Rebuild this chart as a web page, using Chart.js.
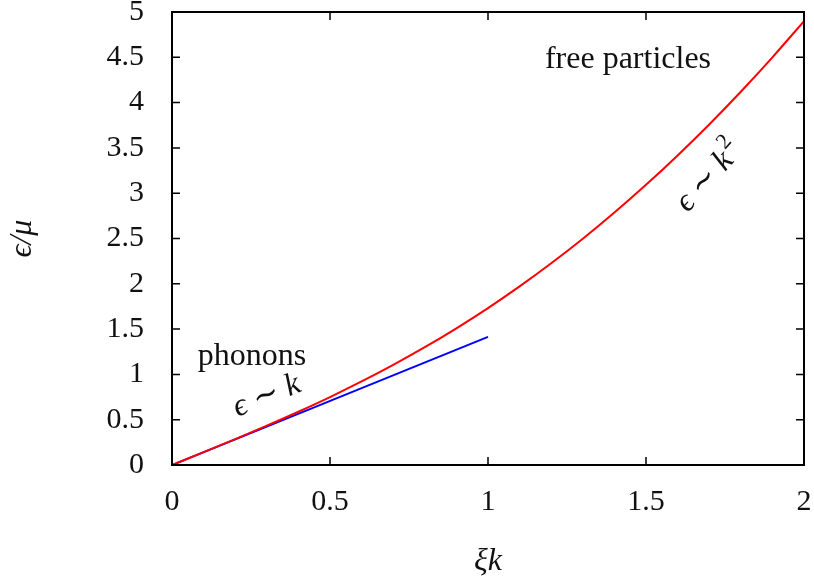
<!DOCTYPE html>
<html>
<head>
<meta charset="utf-8">
<script src="https://cdn.jsdelivr.net/npm/chart.js@4"></script>
<style>
    html, body { margin: 0; padding: 0; background: #fff; }
    #wrap { width: 814px; height: 579px; }
</style>
</head>
<body>
<div id="wrap"><canvas id="c"></canvas></div>
<script>
// xi*k values and the energy
const xiK = [0, 0.1, 0.2, 0.3, 0.4, 0.5, 0.6, 0.7, 0.8, 0.9, 1.0,
             1.1, 1.2, 1.3, 1.4, 1.5, 1.6, 1.7, 1.8, 1.9, 2.0]
const bogoliubov = [0, 0.142, 0.286, 0.434, 0.588, 0.75, 0.922, 1.105, 1.300, 1.509, 1.732,
                    1.971, 2.226, 2.497, 2.786, 3.092, 3.417, 3.759, 4.120, 4.500, 4.899]
const phononX = [0, 1]
const phononY = [0, 1.414]

const xTicks = [0, 0.5, 1, 1.5, 2]
const yTicks = [0, 0.5, 1, 1.5, 2, 2.5, 3, 3.5, 4, 4.5, 5]

// text labels, placed in data units
const notes = [
    { text: 'phonons', sup: '', x: 0.253, y: 1.20, angle: 0, italic: false },
    { text: 'ϵ ∼ k', sup: '', x: 0.30, y: 0.76, angle: -22, italic: true },
    { text: 'free particles', sup: '', x: 1.443, y: 4.47, angle: 0, italic: false },
    { text: 'ϵ ∼ k', sup: '2', x: 1.70, y: 3.18, angle: -48, italic: true }
]

const SERIF = '"Liberation Serif", "DejaVu Serif", serif'

// zero out the label overhang so the plot box sits where it should
function fixBox(s, w, h) {
    if (w) s.width = w
    if (h) s.height = h
    s.paddingLeft = 0
    s.paddingRight = 0
    s.paddingTop = 0
    s.paddingBottom = 0
}

const frame = {
    id: 'frame',
    afterDatasetsDraw(chart) {
        const { ctx, chartArea: a, scales: { x, y } } = chart
        ctx.save()
        ctx.strokeStyle = '#000'
        ctx.lineWidth = 1.5
        const tl = 8
        ctx.beginPath()
        xTicks.forEach(v => {
            const px = x.getPixelForValue(v)
            ctx.moveTo(px, a.bottom); ctx.lineTo(px, a.bottom - tl)
            ctx.moveTo(px, a.top); ctx.lineTo(px, a.top + tl)
        })
        yTicks.forEach(v => {
            const py = y.getPixelForValue(v)
            ctx.moveTo(a.left, py); ctx.lineTo(a.left + tl, py)
            ctx.moveTo(a.right, py); ctx.lineTo(a.right - tl, py)
        })
        ctx.stroke()
        ctx.lineWidth = 2
        ctx.strokeRect(a.left, a.top, a.right - a.left, a.bottom - a.top)

        // annotations
        ctx.fillStyle = '#111'
        ctx.textBaseline = 'middle'
        ctx.textAlign = 'left'
        notes.forEach(n => {
            ctx.save()
            ctx.translate(x.getPixelForValue(n.x), y.getPixelForValue(n.y))
            ctx.rotate(n.angle * Math.PI / 180)
            const mainFont = (n.italic ? 'italic ' : '') + '32px ' + SERIF
            const supFont = '22px ' + SERIF
            ctx.font = mainFont
            const w1 = ctx.measureText(n.text).width
            ctx.font = supFont
            const w2 = n.sup ? ctx.measureText(n.sup).width + 2 : 0
            const x0 = -(w1 + w2) / 2
            ctx.font = mainFont
            ctx.fillText(n.text, x0, 0)
            if (n.sup) {
                ctx.font = supFont
                ctx.fillText(n.sup, x0 + w1 + 2, -12)
            }
            ctx.restore()
        })
        ctx.restore()
    }
}

new Chart(document.getElementById('c').getContext('2d'), {
    type: 'line',
    data: {
        datasets: [
            {
                label: 'Bogoliubov',
                data: xiK.map((v, i) => ({ x: v, y: bogoliubov[i] })),
                borderColor: '#ff0000',
                borderWidth: 2,
                pointRadius: 0,
                cubicInterpolationMode: 'monotone'
            },
            {
                label: 'phonons',
                data: phononX.map((v, i) => ({ x: v, y: phononY[i] })),
                borderColor: '#0000ff',
                borderWidth: 2,
                pointRadius: 0
            }
        ]
    },
    options: {
        responsive: true,
        maintainAspectRatio: false,
        animation: false,
        layout: { padding: { top: 12, right: 10, left: 0, bottom: 0 } },
        plugins: {
            legend: { display: false },
            tooltip: { enabled: false }
        },
        scales: {
            x: {
                type: 'linear',
                min: 0,
                max: 2,
                afterFit: s => fixBox(s, 0, 114),
                afterBuildTicks: s => { s.ticks = xTicks.map(v => ({ value: v })) },
                grid: { display: false, drawTicks: false },
                border: { display: false },
                ticks: {
                    color: '#111',
                    padding: 19,
                    maxRotation: 0,
                    autoSkip: false,
                    callback: v => String(v),
                    font: { family: SERIF, size: 30 }
                },
                title: {
                    display: true,
                    text: 'ξk',
                    color: '#111',
                    padding: { top: 0, bottom: 0 },
                    font: { family: SERIF, size: 32, style: 'italic', lineHeight: 1.1 }
                }
            },
            y: {
                type: 'linear',
                min: 0,
                max: 5,
                afterFit: s => fixBox(s, 172, 0),
                afterBuildTicks: s => { s.ticks = yTicks.map(v => ({ value: v })) },
                grid: { display: false, drawTicks: false },
                border: { display: false },
                ticks: {
                    color: '#111',
                    padding: 28,
                    autoSkip: false,
                    callback: v => String(v),
                    font: { family: SERIF, size: 30 }
                },
                title: {
                    display: true,
                    text: 'ϵ/μ',
                    color: '#111',
                    padding: { top: 3, bottom: 0 },
                    font: { family: SERIF, size: 32, style: 'italic', lineHeight: 1.2 }
                }
            }
        }
    },
    plugins: [frame]
})
</script>
</body>
</html>
